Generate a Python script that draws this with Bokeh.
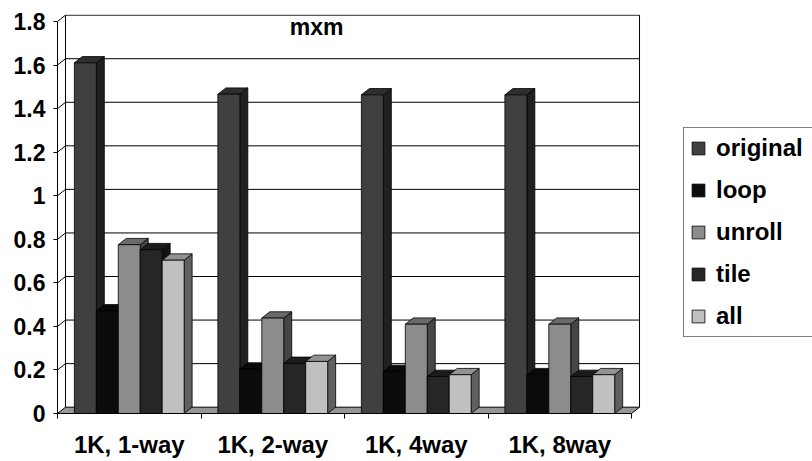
import numpy as np
from bokeh.plotting import figure
from bokeh.models import Range1d, FixedTicker, Legend, LegendItem, Label
from bokeh.embed import file_html
from bokeh.resources import INLINE

# ---------------- data ----------------
categories = ["1K, 1-way", "1K, 2-way", "1K, 4way", "1K, 8way"]
series_names = ["original", "loop", "unroll", "tile", "all"]
original = [1.61, 1.466, 1.463, 1.463]
loop = [0.471, 0.204, 0.193, 0.178]
unroll = [0.775, 0.438, 0.410, 0.410]
tile = [0.752, 0.230, 0.170, 0.170]
all_ = [0.704, 0.239, 0.178, 0.178]
y_ticks = [0, 0.2, 0.4, 0.6, 0.8, 1.0, 1.2, 1.4, 1.6, 1.8]
y_labels = ["0", "0.2", "0.4", "0.6", "0.8", "1", "1.2", "1.4", "1.6", "1.8"]
title_text = "mxm"

# ---------------- styles ----------------
front_colors = ["#404040", "#0c0c0c", "#8c8c8c", "#262626", "#c0c0c0"]
side_colors = ["#202020", "#060606", "#464646", "#131313", "#606060"]
top_colors = ["#2e2e2e", "#0a0a0a", "#6a6a6a", "#1c1c1c", "#929292"]
FONT = "Liberation Sans"
DX, DY = 0.0557, 0.029     # 3-D depth offset (data units)
BAR_W = 0.153
N = len(categories)
Y_MAX = y_ticks[-1]

p = figure(width=812, height=461,
           x_range=Range1d(0, 5.261), y_range=Range1d(0, 1.832),
           output_backend="svg", toolbar_location=None,
           min_border_left=57, min_border_right=0,
           min_border_top=14, min_border_bottom=48)
p.xgrid.visible = False
p.ygrid.visible = False
p.outline_line_color = None
p.background_fill_color = "white"
p.border_fill_color = "white"

# ---- y axis ----
ya = p.yaxis[0]
ya.ticker = FixedTicker(ticks=y_ticks)
ya.major_label_overrides = {t: l for t, l in zip(y_ticks, y_labels)}
ya.bounds = (0, Y_MAX)
ya.major_tick_out = 4
ya.major_tick_in = 0
ya.minor_tick_out = 0
ya.minor_tick_in = 0
ya.major_label_standoff = 8
ya.axis_line_color = "black"
ya.major_tick_line_color = "black"
ya.major_label_text_font = FONT
ya.major_label_text_font_style = "bold"
ya.major_label_text_font_size = "23px"
ya.major_label_text_color = "black"

# ---- x axis ----
centers = [i + 0.5 for i in range(N)]
xa = p.xaxis[0]
xa.ticker = FixedTicker(ticks=centers, minor_ticks=list(range(N + 1)))
xa.major_label_overrides = {c: l for c, l in zip(centers, categories)}
xa.bounds = (0, N)
xa.major_tick_out = 0
xa.major_tick_in = 0
xa.minor_tick_out = 5
xa.minor_tick_in = 0
xa.minor_tick_line_color = "black"
xa.axis_line_color = "black"
xa.major_label_standoff = 12
xa.major_label_text_font = FONT
xa.major_label_text_font_style = "bold"
xa.major_label_text_font_size = "24px"
xa.major_label_text_color = "black"

# ---- floor ----
p.patch([0, N, N + DX, DX], [0, 0, DY, DY], fill_color="#969696",
        line_color="black", line_width=1)

# ---- gridlines on back wall (with side-wall diagonals) ----
gx = [[0, DX, N + DX] for t in y_ticks if t > 0]
gy = [[t, t + DY, t + DY] for t in y_ticks if t > 0]
p.multi_line(gx, gy, line_color="black", line_width=1)

# ---- back wall edges ----
p.multi_line([[DX, DX], [N + DX, N + DX]],
             [[DY, Y_MAX + DY], [DY, Y_MAX + DY]],
             line_color="black", line_width=1)

# ---- bars ----
all_series = [original, loop, unroll, tile, all_]
legend_items = []
for s, (name, vals) in enumerate(zip(series_names, all_series)):
    vals = np.array(vals)
    x0 = np.arange(N) + 0.5 - 2.5 * BAR_W + s * BAR_W
    x1 = x0 + BAR_W
    sx = [[a, a + DX, a + DX, a] for a in x1]
    sy = [[0, DY, v + DY, v] for v in vals]
    p.patches(sx, sy, fill_color=side_colors[s], line_color="black", line_width=0.8)
    tx = [[a, a + DX, b + DX, b] for a, b in zip(x0, x1)]
    ty = [[v, v + DY, v + DY, v] for v in vals]
    p.patches(tx, ty, fill_color=top_colors[s], line_color="black", line_width=0.8)
    r = p.quad(left=x0, right=x1, bottom=0, top=vals, fill_color=front_colors[s],
               line_color="black", line_width=0.8)
    legend_items.append(LegendItem(label=name, renderers=[r]))

# ---- title ----
p.add_layout(Label(x=1.805, y=1.774, text=title_text, text_align="center",
                   text_baseline="middle", text_font=FONT, text_font_style="bold",
                   text_font_size="23px", text_color="black"))

# ---- legend ----
legend = Legend(items=legend_items, location=(626, 76),
                orientation="vertical",
                glyph_width=16, glyph_height=16, label_height=26, label_width=92,
                spacing=14, padding=6, margin=0, label_standoff=10,
                label_text_font=FONT, label_text_font_style="bold",
                label_text_font_size="24px", label_text_color="black",
                border_line_color="black", border_line_width=1,
                background_fill_color="white", background_fill_alpha=1)
p.add_layout(legend)

open("out.html", "w").write(file_html(p, INLINE))
